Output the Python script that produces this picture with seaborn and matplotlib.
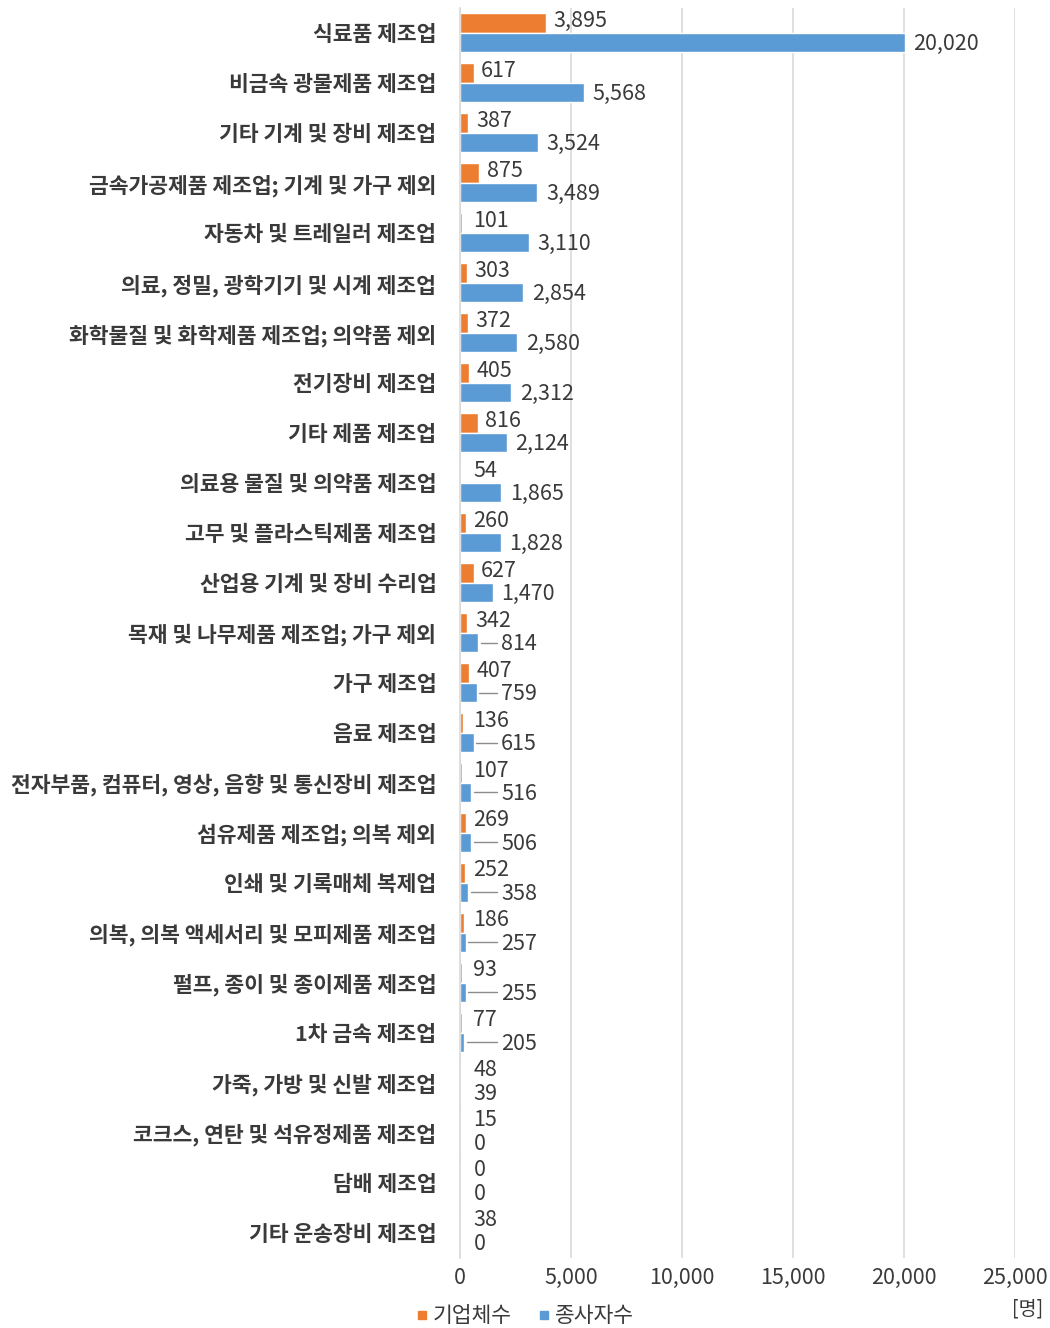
import pandas as pd
import matplotlib
matplotlib.use("Agg")
import matplotlib.pyplot as plt
from matplotlib.lines import Line2D
from matplotlib.ticker import FuncFormatter
import seaborn as sns

# 업종별 기업체수 / 종사자수
industries = [
    "식료품 제조업", "비금속 광물제품 제조업", "기타 기계 및 장비 제조업",
    "금속가공제품 제조업; 기계 및 가구 제외", "자동차 및 트레일러 제조업",
    "의료, 정밀, 광학기기 및 시계 제조업", "화학물질 및 화학제품 제조업; 의약품 제외",
    "전기장비 제조업", "기타 제품 제조업", "의료용 물질 및 의약품 제조업",
    "고무 및 플라스틱제품 제조업", "산업용 기계 및 장비 수리업",
    "목재 및 나무제품 제조업; 가구 제외", "가구 제조업", "음료 제조업",
    "전자부품, 컴퓨터, 영상, 음향 및 통신장비 제조업", "섬유제품 제조업; 의복 제외",
    "인쇄 및 기록매체 복제업", "의복, 의복 액세서리 및 모피제품 제조업",
    "펄프, 종이 및 종이제품 제조업", "1차 금속 제조업", "가죽, 가방 및 신발 제조업",
    "코크스, 연탄 및 석유정제품 제조업", "담배 제조업", "기타 운송장비 제조업",
]
firms = [3895, 617, 387, 875, 101, 303, 372, 405, 816, 54, 260, 627, 342, 407,
         136, 107, 269, 252, 186, 93, 77, 48, 15, 0, 38]
workers = [20020, 5568, 3524, 3489, 3110, 2854, 2580, 2312, 2124, 1865, 1828, 1470,
           814, 759, 615, 516, 506, 358, 257, 255, 205, 39, 0, 0, 0]
series = ["기업체수", "종사자수"]
colors = ["#ED7D31", "#5B9BD5"]

df = pd.concat([
    pd.DataFrame({"업종": industries, "구분": series[0], "값": firms}),
    pd.DataFrame({"업종": industries, "구분": series[1], "값": workers}),
])

sns.set_style("white")
plt.rcParams["font.family"] = ["Noto Sans CJK KR", "DejaVu Sans"]
text_color = "#3A3A3A"
num_size = 15.5

fig = plt.figure(figsize=(10.5, 13.28), dpi=100)
ax = fig.add_axes([0.438, 0.053, 0.529, 0.941])

sns.barplot(data=df, y="업종", x="값", hue="구분", hue_order=series,
            palette=colors, orient="h", width=0.78, saturation=1,
            legend=False, ax=ax)

ax.set_ylim(len(industries) - 0.5, -0.5)
ax.set_xlim(0, 25000)
ax.set_xticks(range(0, 25001, 5000))
ax.xaxis.set_major_formatter(FuncFormatter(lambda v, p: f"{int(v):,}"))
ax.tick_params(axis="x", length=0, pad=7, labelsize=num_size, labelcolor=text_color)
ax.tick_params(axis="y", length=0, pad=17, labelsize=15.5, labelcolor=text_color)
for lab in ax.get_yticklabels():
    lab.set_fontweight("bold")
ax.set_xlabel("")
ax.set_ylabel("")
ax.grid(axis="x", color="#D9D9D9", linewidth=1.2)
ax.set_axisbelow(True)
for s in ["top", "right", "bottom"]:
    ax.spines[s].set_visible(False)
ax.spines["left"].set_color("#D9D9D9")
ax.spines["left"].set_linewidth(1.2)

# 값 라벨
for bar, v in zip(ax.containers[0], firms):
    y = bar.get_y() + bar.get_height() / 2
    x = max(v, 280) + 330
    ax.text(x, y - 0.05, f"{v:,}", fontsize=num_size,
            color=text_color, va="center", ha="left")

for bar, v in zip(ax.containers[1], workers):
    y = bar.get_y() + bar.get_height() / 2
    if v >= 1000:
        x = v + 380
    elif v >= 100:
        x = 1850
        ax.plot([v + 120, x - 180], [y, y], color="#8C8C8C", linewidth=1)
    else:
        x = 610
    ax.text(x, y + 0.03, f"{v:,}", fontsize=num_size,
            color=text_color, va="center", ha="left")

handles = [Line2D([], [], marker="s", linestyle="", markersize=6,
                  markerfacecolor=c, markeredgecolor=c) for c in colors]
fig.legend(handles, series, loc="center", bbox_to_anchor=(0.5, 0.009), ncol=2,
           frameon=False, fontsize=15.5, handlelength=0.6, handletextpad=0.2,
           columnspacing=1.2, labelcolor=text_color)
fig.text(0.979, 0.014, "[명]", ha="center", va="center", fontsize=14,
         color=text_color)

fig.savefig("out.png", dpi=100)
